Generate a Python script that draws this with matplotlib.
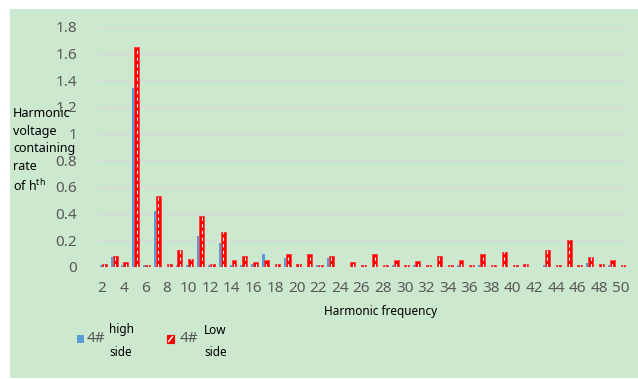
import matplotlib
matplotlib.use("Agg")
import matplotlib.pyplot as plt
import numpy as np
from matplotlib.patches import Rectangle
from matplotlib.lines import Line2D

# harmonic order on the x axis
harmonics = list(range(2, 51))

# 4# high side, harmonic voltage containing rate (%)
high_side = [0.015, 0.075, 0.015, 1.34, 0.015, 0.42, 0.0, 0.015, 0.015, 0.23,
             0.015, 0.18, 0.015, 0.015, 0.02, 0.10, 0.0, 0.068, 0.0, 0.0,
             0.015, 0.068, 0.0, 0.0, 0.0, 0.0, 0.0, 0.015, 0.0, 0.015,
             0.0, 0.0, 0.0, 0.015, 0.0, 0.015, 0.0, 0.0, 0.0, 0.0,
             0.0, 0.015, 0.0, 0.0, 0.0, 0.03, 0.0, 0.015, 0.0]

# 4# low side
low_side = [0.022, 0.08, 0.04, 1.65, 0.015, 0.53, 0.02, 0.125, 0.06, 0.385,
            0.02, 0.265, 0.055, 0.08, 0.037, 0.055, 0.02, 0.095, 0.02, 0.095,
            0.015, 0.08, 0.0, 0.037, 0.018, 0.095, 0.018, 0.055, 0.018, 0.043,
            0.018, 0.08, 0.018, 0.053, 0.018, 0.095, 0.018, 0.11, 0.018, 0.022,
            0.0, 0.13, 0.018, 0.20, 0.018, 0.073, 0.022, 0.053, 0.018]

x_ticks = list(range(2, 51, 2))
y_ticks = [0, 0.2, 0.4, 0.6, 0.8, 1, 1.2, 1.4, 1.6, 1.8]
y_tick_labels = ["0", "0.2", "0.4", "0.6", "0.8", "1", "1.2", "1.4", "1.6", "1.8"]

bg = "#CCE8CF"
blue = "#5B9BD5"
red = "#FF0000"
grey = "#595959"

plt.rcParams["font.family"] = ["Noto Sans", "DejaVu Sans"]

W, H = 638, 379
fig = plt.figure(figsize=(W / 100, H / 100), dpi=100, facecolor="white")
# green panel with a thin white margin top/left
fig.patches.append(Rectangle((10 / W, 1 / H), 1 - 10 / W, 1 - 10 / H,
                             transform=fig.transFigure, facecolor=bg,
                             edgecolor="none", zorder=-10))

ax = fig.add_axes([96.6 / W, 1 - 267 / H, (626.3 - 96.6) / W, (267 - 27) / H])
ax.set_facecolor("none")
ax.set_zorder(1)

x = np.array(harmonics, dtype=float)
ax.bar(x - 0.2, high_side, width=0.3, align="edge", color=blue,
       edgecolor="none", zorder=2)
ax.bar(x - 0.02, low_side, width=0.46, align="edge", color=red,
       edgecolor="#FF4040", linewidth=0.7, zorder=3)
# white dashed stripe inside each low-side bar
ax.vlines(x + 0.21, 0, low_side, colors="white", linewidth=0.8,
          linestyles=(0, (3, 3)), zorder=4)

ax.set_xlim(1.5, 50.5)
ax.set_ylim(0, 1.8)
ax.set_xticks(x_ticks)
ax.set_yticks(y_ticks)
ax.set_yticklabels(y_tick_labels)
ax.tick_params(axis="both", length=0, labelsize=11, labelcolor=grey)
ax.tick_params(axis="y", pad=14)
ax.tick_params(axis="x", pad=10)
ax.grid(axis="y", color="#D9D9D9", linewidth=1, zorder=1)
ax.set_axisbelow(True)
for s in ax.spines.values():
    s.set_visible(False)

# axis titles
fig.text(13 / W, 1 - 107 / H,
         "Harmonic\nvoltage\ncontaining\nrate\nof h$^{\\mathregular{th}}$",
         ha="left", va="top", fontsize=9, color="black", linespacing=1.45,
         zorder=5)
fig.text(381 / W, 1 - 311 / H, "Harmonic frequency", ha="center",
         va="center", fontsize=8.5, color="black")

# legend
fig.patches.append(Rectangle((77 / W, 1 - 343 / H), 7 / W, 8 / H,
                             transform=fig.transFigure, facecolor=blue,
                             edgecolor="none"))
fig.text(87 / W, 1 - 339 / H, "4#", ha="left", va="center", fontsize=11,
         color=grey)
fig.text(109 / W, 1 - 330 / H, "high", ha="left", va="center", fontsize=8.5)
fig.text(109 / W, 1 - 352 / H, "side", ha="left", va="center", fontsize=8.5)

fig.patches.append(Rectangle((167 / W, 1 - 343 / H), 7 / W, 8 / H,
                             transform=fig.transFigure, facecolor=red,
                             edgecolor=red, linewidth=0.8))
fig.lines.append(Line2D([168.5 / W, 172.5 / W], [1 - 341.5 / H, 1 - 336.5 / H],
                        transform=fig.transFigure, color="white", linewidth=1))
fig.text(180 / W, 1 - 339 / H, "4#", ha="left", va="center", fontsize=11,
         color=grey)
fig.text(204 / W, 1 - 330 / H, "Low", ha="left", va="center", fontsize=8.5)
fig.text(204 / W, 1 - 352 / H, "side", ha="left", va="center", fontsize=8.5)

fig.savefig("out.png", dpi=100, facecolor="white")
